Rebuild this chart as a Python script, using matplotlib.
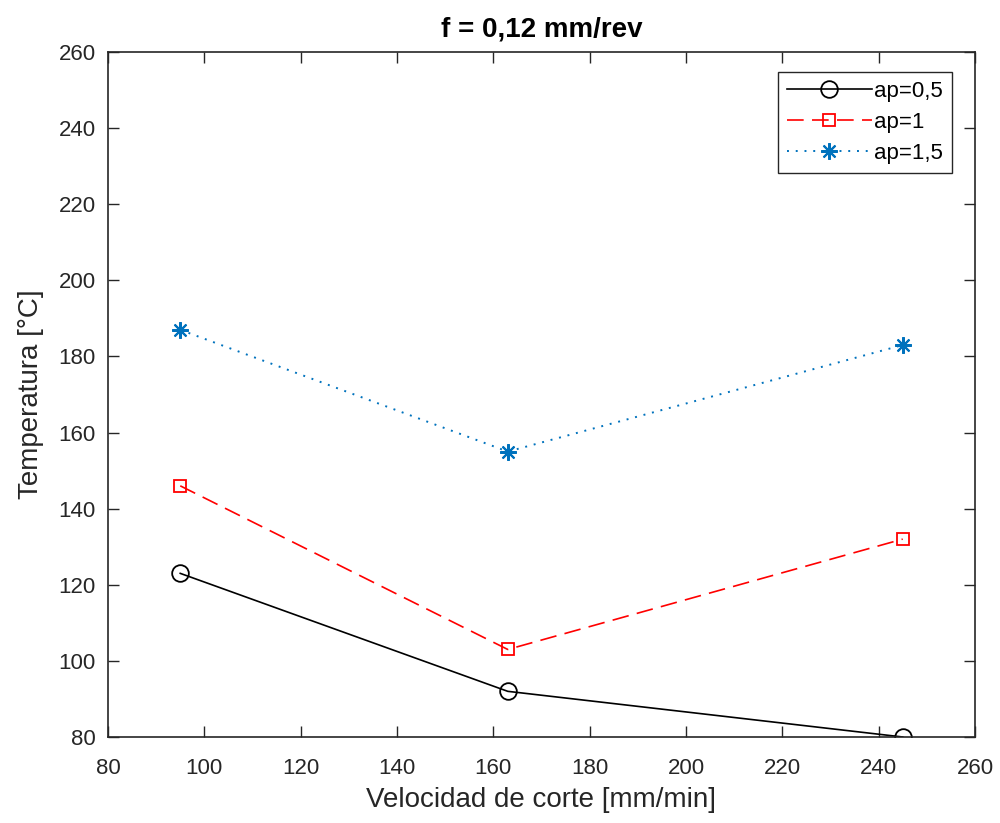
import matplotlib.pyplot as plt
import numpy as np

plt.rcParams['font.family'] = ['Liberation Sans', 'DejaVu Sans']

# datos
velocidad = [95, 163, 245]
temp_ap05 = [123, 92, 80]
temp_ap1 = [146, 103, 132]
temp_ap15 = [187, 155, 183]
xticks = np.arange(80, 261, 20)
yticks = np.arange(80, 261, 20)

fig = plt.figure(figsize=(10, 8.23), dpi=100)
ax = fig.add_axes([0.108, 0.1045, 0.867, 0.8323])

ax.plot(velocidad, temp_ap05, color='black', linestyle='-', linewidth=1.2,
        marker='o', markersize=12, markerfacecolor='none', markeredgewidth=1.3, label='ap=0,5')
ax.plot(velocidad, temp_ap1, color='#ff0000', linestyle=(0, (10, 5)), linewidth=1.2,
        marker='s', markersize=9, markerfacecolor='none', markeredgewidth=1.3, label='ap=1')
ax.plot(velocidad, temp_ap15, color='#0072bd', linestyle=(0, (1, 3.5)), linewidth=1.4,
        marker=(8, 2, 0), markersize=12, markeredgecolor='#0072bd', markeredgewidth=1.5, label='ap=1,5')

ax.set_xlim(80, 260)
ax.set_ylim(80, 260)
ax.set_xticks(xticks)
ax.set_yticks(yticks)
ax.tick_params(direction='in', top=True, right=True, length=8, width=1,
               labelsize=16, colors='#262626')
ax.tick_params(axis='x', pad=15)
ax.tick_params(axis='y', pad=9)
for s in ax.spines.values():
    s.set_color('#262626')
    s.set_linewidth(1.2)

ax.set_xlabel('Velocidad de corte [mm/min]', fontsize=20, color='#262626', labelpad=6)
ax.set_ylabel('Temperatura [°C]', fontsize=20, color='#262626', labelpad=10)
ax.set_title('f = 0,12 mm/rev', fontsize=20, fontweight='bold', pad=11)

leg = ax.legend(loc='upper right', bbox_to_anchor=(0.973, 0.971), fontsize=16,
                fancybox=False, framealpha=1, edgecolor='#262626', handlelength=3.8,
                borderpad=0.4, labelspacing=0.45, handletextpad=0.1, borderaxespad=0)
leg.get_frame().set_linewidth(1.0)

fig.savefig('out.png', dpi=100)
